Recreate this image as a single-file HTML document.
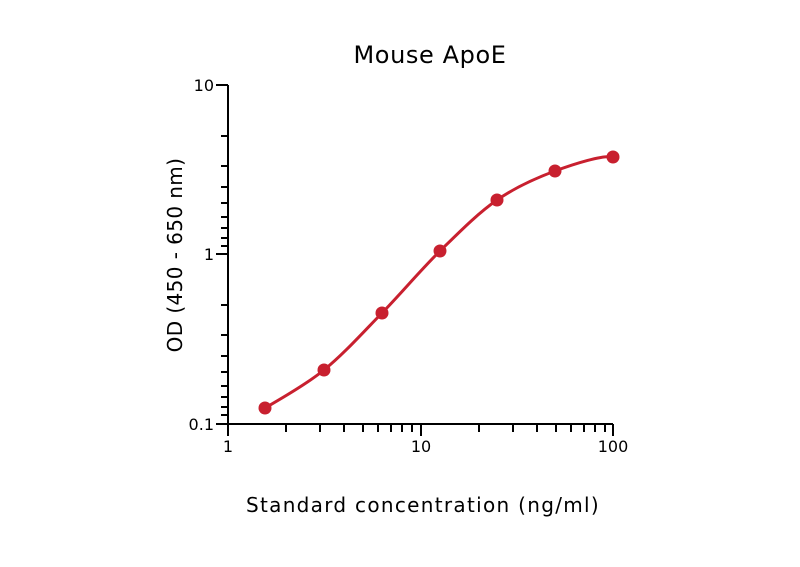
<!DOCTYPE html>
<html><head><style>body{margin:0;background:#fff}svg{display:block}</style></head><body>
<svg width="800" height="567" xmlns="http://www.w3.org/2000/svg" font-family="DejaVu Sans, sans-serif">
<rect width="800" height="567" fill="#fff"/>
<text x="430" y="63" font-size="24" text-anchor="middle" letter-spacing="0.6" fill="#000">Mouse ApoE</text>
<text x="423" y="512" font-size="20" text-anchor="middle" letter-spacing="1.3">Standard concentration (ng/ml)</text>
<text transform="translate(182,255) rotate(-90)" font-size="20" text-anchor="middle" letter-spacing="0.4">OD (450 - 650 nm)</text>
<g stroke="#000" stroke-width="2" fill="none">
<path d="M228,85V424H613"/>
<path d="M216,85H228M216,254H228M216,424H228"/>
<path d="M221,136H228M221,166H228M221,187H228M221,203H228M221,217H228M221,228H228M221,238H228M221,246H228"/>
<path d="M221,305H228M221,335H228M221,356H228M221,372H228M221,386H228M221,397H228M221,407H228M221,415H228"/>
<path d="M228,424V436M421,424V436M613,424V436"/>
<path d="M286,424V432M320,424V432M344,424V432M363,424V432M378,424V432M391,424V432M402,424V432M412,424V432"/>
<path d="M479,424V432M513,424V432M537,424V432M556,424V432M571,424V432M584,424V432M595,424V432M605,424V432"/>
</g>
<g font-size="16" fill="#000">
<text x="214" y="91" text-anchor="end">10</text>
<text x="214" y="260" text-anchor="end">1</text>
<text x="214" y="430" text-anchor="end">0.1</text>
<text x="228" y="452" text-anchor="middle">1</text>
<text x="421" y="452" text-anchor="middle">10</text>
<text x="613" y="452" text-anchor="middle">100</text>
</g>
<path d="M265,408C275,402 304.5,385.8 324,370C343.5,354.2 362.7,332.8 382,313C401.3,293.2 420.8,269.8 440,251C459.2,232.2 477.8,213.3 497,200C516.2,186.7 535.7,178.2 555,171C574.3,163.8 603.3,154.7 613,157" stroke="#c8202f" stroke-width="3" fill="none"/>
<g fill="#c8202f">
<circle cx="265" cy="408" r="6.5"/><circle cx="324" cy="370" r="6.5"/><circle cx="382" cy="313" r="6.5"/><circle cx="440" cy="251" r="6.5"/><circle cx="497" cy="200" r="6.5"/><circle cx="555" cy="171" r="6.5"/><circle cx="613" cy="157" r="6.5"/>
</g>
</svg>
</body></html>
